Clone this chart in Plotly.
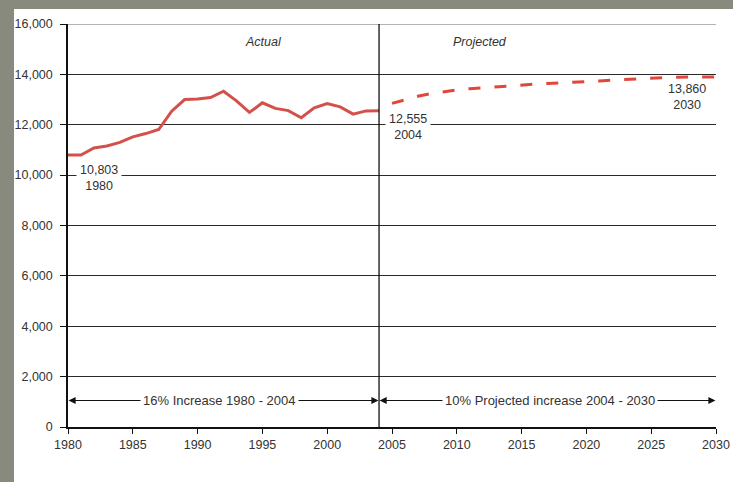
import plotly.graph_objects as go

# ---- data ----
actual_years = list(range(1980, 2005))
actual_values = [10803, 10800, 11080, 11160, 11300, 11520, 11650, 11810, 12540, 13000,
                 13020, 13080, 13330, 12950, 12490, 12870, 12650, 12560, 12280, 12670,
                 12840, 12710, 12420, 12550, 12555]
proj_years = list(range(2005, 2031))
proj_values = [12850, 13000, 13130, 13240, 13320, 13380, 13430, 13470, 13510, 13550,
               13580, 13610, 13640, 13660, 13680, 13710, 13740, 13770, 13800, 13820,
               13850, 13870, 13890, 13900, 13900, 13900]
x_ticks = [1980, 1985, 1990, 1995, 2000, 2005, 2010, 2015, 2020, 2025, 2030]
y_ticks = [0, 2000, 4000, 6000, 8000, 10000, 12000, 14000, 16000]
y_tick_labels = ["0", "2,000", "4,000", "6,000", "8,000", "10,000", "12,000", "14,000", "16,000"]
split_year = 2004
start_year, end_year = 1980, 2030
arrow_level = 1050

FONT = "Liberation Sans, Arial, sans-serif"
TXT = "#333333"
RED_A = "#d4504a"
RED_P = "#e2463b"

fig = go.Figure()
fig.add_trace(go.Scatter(x=actual_years, y=actual_values, mode="lines",
                         line=dict(color=RED_A, width=3), hoverinfo="skip", showlegend=False))
fig.add_trace(go.Scatter(x=proj_years, y=proj_values, mode="lines",
                         line=dict(color=RED_P, width=3, dash="12px,14px"),
                         hoverinfo="skip", showlegend=False))

shapes = [
    dict(type="rect", xref="paper", yref="paper", x0=-0.0833, x1=1.03, y0=-0.14, y1=1.0372,
         fillcolor="white", line=dict(width=0), layer="below"),
    dict(type="line", xref="paper", yref="y", x0=0, x1=1, y0=16000, y1=16000,
         line=dict(color="#9a9a9a", width=1.5)),
    dict(type="line", xref="x", yref="y", x0=split_year, x1=split_year, y0=0, y1=16000,
         line=dict(color="#111111", width=1.3)),
]

ann = []
ann.append(dict(x=1995.05, y=15280, text="<i>Actual</i>", showarrow=False,
                font=dict(family=FONT, size=12.5, color=TXT)))
ann.append(dict(x=2011.8, y=15280, text="<i>Projected</i>", showarrow=False,
                font=dict(family=FONT, size=12.5, color=TXT)))

mid_a = (start_year + split_year) / 2
mid_p = (split_year + end_year) / 2
for (x0, x1) in [(mid_a, start_year), (mid_a, split_year), (mid_p, split_year), (mid_p, end_year)]:
    ann.append(dict(x=x1, y=arrow_level, ax=x0, ay=arrow_level, axref="x", ayref="y",
                    xref="x", yref="y", text="", showarrow=True, arrowhead=2,
                    arrowsize=1.3, arrowwidth=1.1, arrowcolor="#111111", standoff=0.5))
ann.append(dict(x=1991.7, y=arrow_level, text="16% Increase 1980 - 2004", showarrow=False,
                bgcolor="white", borderpad=2, font=dict(family=FONT, size=13, color=TXT)))
ann.append(dict(x=2017.2, y=arrow_level, text="10% Projected increase 2004 - 2030", showarrow=False,
                bgcolor="white", borderpad=2, font=dict(family=FONT, size=13, color=TXT)))

ann.append(dict(x=1982.4, y=9880, text=f"{actual_values[0]:,}<br>{actual_years[0]}",
                showarrow=False, bgcolor="white", borderpad=3,
                font=dict(family=FONT, size=12.5, color=TXT)))
ann.append(dict(x=2006.2, y=11900, text=f"{actual_values[-1]:,}<br>{actual_years[-1]}",
                showarrow=False, bgcolor="white", borderpad=3,
                font=dict(family=FONT, size=12.5, color=TXT)))
ann.append(dict(x=2027.8, y=13120, text=f"13,860<br>{proj_years[-1]}",
                showarrow=False, font=dict(family=FONT, size=12.5, color=TXT)))

fig.update_layout(
    width=733, height=482,
    margin=dict(l=68, r=17, t=24, b=55),
    paper_bgcolor="#878a7d",
    plot_bgcolor="rgba(0,0,0,0)",
    shapes=shapes,
    annotations=ann,
    font=dict(family=FONT, size=12.5, color=TXT),
    xaxis=dict(range=[start_year, end_year], tickvals=x_ticks, showgrid=False,
               showline=True, linecolor="#111111", linewidth=1.5, automargin=False,
               ticks="outside", ticklen=5, tickcolor="#111111", tickwidth=1.2,
               zeroline=False, tickfont=dict(family=FONT, size=12.5, color=TXT)),
    yaxis=dict(range=[0, 16000], tickvals=y_ticks, ticktext=y_tick_labels,
               showgrid=True, gridcolor="#2a2a2a", gridwidth=1.3, automargin=False,
               showline=True, linecolor="#111111", linewidth=1.5,
               ticks="outside", ticklen=6, tickcolor="#111111", tickwidth=1.2,
               ticklabelstandoff=5,
               zeroline=False, tickfont=dict(family=FONT, size=12.5, color=TXT)),
)

fig.write_html("out.html", config={"displayModeBar": False},
               post_script="document.body.style.margin='0';document.body.style.overflow='hidden';")
